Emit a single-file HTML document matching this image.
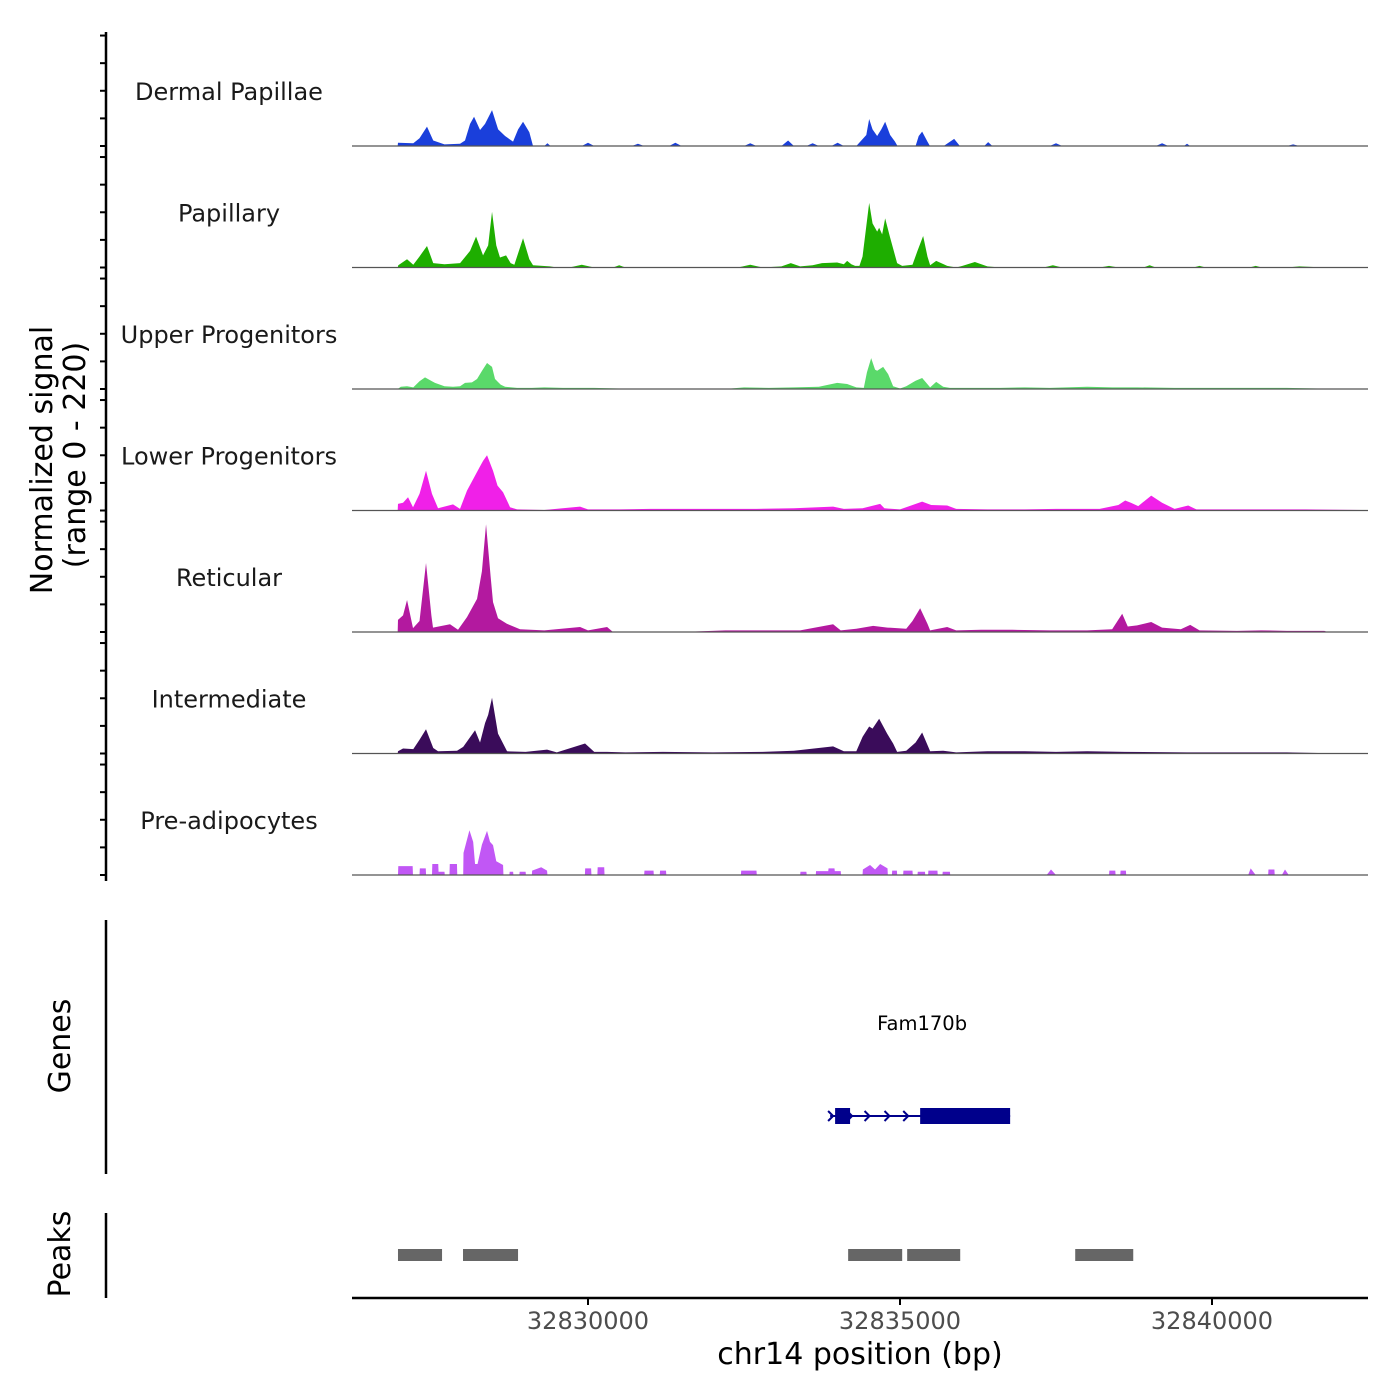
<!DOCTYPE html>
<html><head><meta charset="utf-8"><style>
html,body{margin:0;padding:0;background:#fff}
svg{display:block}
text{font-family:"DejaVu Sans","Liberation Sans",sans-serif}
</style></head><body>
<svg id="chart" width="1400" height="1400" viewBox="0 0 1400 1400" xmlns="http://www.w3.org/2000/svg">
<g id="tracks"></g>
<g id="leftaxis"></g>
<text transform="translate(52,460) rotate(-90)" text-anchor="middle" font-size="30" fill="#000">Normalized signal</text>
<text transform="translate(85,455) rotate(-90)" text-anchor="middle" font-size="30" fill="#000">(range 0 - 220)</text>
<g id="genes"></g>
<line x1="106" y1="920" x2="106" y2="1174" stroke="#000" stroke-width="2.5"/>
<text transform="translate(70,1046) rotate(-90)" text-anchor="middle" font-size="30" fill="#000">Genes</text>
<g id="peaks"></g>
<line x1="106" y1="1213" x2="106" y2="1298" stroke="#000" stroke-width="2.5"/>
<text transform="translate(70,1254) rotate(-90)" text-anchor="middle" font-size="30" fill="#000">Peaks</text>
<g id="xaxis"></g>
<text x="860" y="1364" text-anchor="middle" font-size="30" fill="#000">chr14 position (bp)</text>
</svg>
<script>
const trackNames = ["Dermal Papillae","Papillary","Upper Progenitors","Lower Progenitors","Reticular","Intermediate","Pre-adipocytes"];
const trackColors = ["#1a3fdb","#1eae00","#5ad96a","#f020e8","#b3199f","#3a0c5a","#c157f5"];
const xTicks = [32830000,32835000,32840000];
const yTickValues = [0,50,100,150,200];
const dermalPapillae = [[32826950,0],[32826955,6],[32827200,5],[32827300,14],[32827420,35],[32827520,10],[32827700,3],[32827950,4],[32828029,10],[32828110,40],[32828174,53],[32828270,29],[32828350,40],[32828462,65],[32828560,30],[32828671,18],[32828799,8],[32828880,30],[32828959,44],[32829060,25],[32829119,0],[32829300,0],[32829350,5],[32829400,0],[32829900,0],[32830000,6],[32830100,0],[32830700,0],[32830800,4],[32830900,0],[32831300,0],[32831400,6],[32831500,0],[32832500,0],[32832600,5],[32832700,0],[32833100,0],[32833207,10],[32833300,0],[32833500,0],[32833600,5],[32833700,0],[32833900,0],[32834000,6],[32834100,0],[32834300,0],[32834380,10],[32834460,20],[32834506,49],[32834560,30],[32834634,18],[32834700,30],[32834762,44],[32834842,20],[32834920,8],[32834960,0],[32835250,0],[32835300,18],[32835355,26],[32835440,8],[32835480,0],[32835700,0],[32835868,13],[32835960,0],[32836350,0],[32836413,7],[32836480,0],[32837400,0],[32837500,5],[32837600,0],[32839100,0],[32839200,5],[32839300,0],[32839550,0],[32839600,4],[32839650,0],[32841200,0],[32841300,3],[32841400,0]];
const papillary = [[32826950,0],[32826960,4],[32827100,15],[32827200,5],[32827300,20],[32827420,39],[32827520,8],[32827700,6],[32827950,8],[32828110,30],[32828206,56],[32828318,22],[32828400,40],[32828462,101],[32828530,40],[32828590,18],[32828687,22],[32828760,8],[32828820,5],[32828959,53],[32829060,15],[32829119,4],[32829392,2],[32829500,0],[32829700,0],[32829900,5],[32830100,0],[32830400,0],[32830500,4],[32830600,0],[32832400,0],[32832600,5],[32832800,0],[32833100,2],[32833250,8],[32833400,2],[32833600,4],[32833750,8],[32833993,9],[32834100,6],[32834153,12],[32834220,6],[32834281,3],[32834350,3],[32834400,20],[32834506,117],[32834560,80],[32834634,65],[32834666,72],[32834714,60],[32834762,89],[32834842,54],[32834954,8],[32835035,3],[32835200,5],[32835280,30],[32835371,57],[32835440,20],[32835483,4],[32835580,12],[32835700,6],[32835756,3],[32835900,0],[32836000,3],[32836200,10],[32836400,2],[32836600,0],[32837300,0],[32837450,4],[32837600,0],[32838200,0],[32838350,3],[32838500,0],[32838900,0],[32839000,4],[32839100,0],[32839700,0],[32839800,3],[32839900,0],[32840600,0],[32840700,3],[32840800,0],[32841200,0],[32841400,2],[32841800,0]];
const upperProgenitors = [[32826950,0],[32827000,4],[32827100,5],[32827200,3],[32827300,14],[32827388,21],[32827548,11],[32827700,5],[32827837,4],[32827950,5],[32828029,11],[32828140,12],[32828222,18],[32828302,33],[32828382,47],[32828462,40],[32828510,18],[32828600,8],[32828671,4],[32828863,2],[32829100,2],[32829300,3],[32829600,2],[32830100,2],[32830500,1],[32830700,0],[32832200,0],[32832500,3],[32832900,2],[32833300,3],[32833700,4],[32833993,11],[32834153,9],[32834300,3],[32834420,2],[32834470,30],[32834538,56],[32834600,35],[32834634,33],[32834730,40],[32834810,27],[32834890,5],[32835002,1],[32835100,5],[32835250,15],[32835355,20],[32835483,3],[32835580,13],[32835692,4],[32835800,2],[32836200,2],[32836600,2],[32837000,3],[32837400,2],[32838000,4],[32838400,3],[32838800,3],[32839400,2],[32840000,2],[32840600,2],[32841200,2],[32841700,1],[32841800,0]];
const lowerProgenitors = [[32826950,0],[32826955,12],[32827036,14],[32827116,24],[32827196,6],[32827300,30],[32827404,72],[32827500,30],[32827597,4],[32827837,11],[32827949,3],[32828061,36],[32828270,80],[32828320,90],[32828382,100],[32828478,72],[32828550,45],[32828639,33],[32828751,6],[32828863,2],[32829300,1],[32829873,7],[32830000,2],[32830500,2],[32831000,3],[32832000,3],[32832700,3],[32833300,4],[32833928,7],[32834100,3],[32834400,4],[32834682,12],[32834750,4],[32835000,2],[32835150,8],[32835355,16],[32835500,10],[32835756,9],[32835900,3],[32836400,2],[32837000,2],[32837500,3],[32838200,3],[32838500,10],[32838609,18],[32838700,14],[32838818,8],[32839026,27],[32839200,14],[32839400,3],[32839619,9],[32839750,2],[32840500,2],[32841500,2],[32842400,1],[32842500,0]];
const reticular = [[32826950,0],[32826955,22],[32827036,30],[32827100,58],[32827196,7],[32827300,20],[32827404,125],[32827490,30],[32827516,8],[32827789,14],[32827917,4],[32828061,27],[32828222,60],[32828300,110],[32828366,195],[32828440,100],[32828478,54],[32828558,25],[32828700,15],[32828911,5],[32829300,3],[32829873,9],[32830000,3],[32830306,9],[32830400,0],[32831500,0],[32832200,3],[32832900,3],[32833400,3],[32833928,14],[32834050,3],[32834300,6],[32834570,11],[32834800,8],[32835100,6],[32835200,20],[32835323,43],[32835440,15],[32835483,3],[32835756,9],[32835900,3],[32836300,4],[32836800,4],[32837400,3],[32838000,3],[32838400,5],[32838561,33],[32838650,10],[32838800,12],[32839026,18],[32839200,8],[32839500,5],[32839651,13],[32839800,3],[32840400,2],[32840789,3],[32841200,2],[32841800,2],[32841850,0]];
const intermediate = [[32826950,0],[32826955,4],[32827036,9],[32827200,8],[32827300,25],[32827404,44],[32827520,10],[32827597,4],[32827901,5],[32828000,12],[32828190,42],[32828270,20],[32828350,55],[32828400,70],[32828462,101],[32828558,36],[32828703,4],[32829000,3],[32829344,7],[32829500,2],[32829953,18],[32830100,3],[32830306,3],[32830600,2],[32831200,3],[32832000,2],[32832800,3],[32833300,5],[32833928,13],[32834100,4],[32834300,4],[32834400,30],[32834506,49],[32834560,45],[32834666,63],[32834794,36],[32834890,18],[32834954,3],[32835100,5],[32835250,20],[32835355,38],[32835483,4],[32835692,5],[32835900,2],[32836400,4],[32837000,4],[32837500,3],[32838000,4],[32838600,3],[32839600,2],[32840400,2],[32841200,2],[32841700,1],[32841750,0]];
const preAdipocytes = [[32826955,0],[32826960,16],[32827190,16],[32827195,0],[32827300,0],[32827305,12],[32827400,12],[32827405,0],[32827500,0],[32827505,20],[32827600,20],[32827605,6],[32827700,6],[32827705,0],[32827780,0],[32827785,20],[32827900,20],[32827905,0],[32828000,0],[32828005,40],[32828100,81],[32828160,60],[32828190,20],[32828230,20],[32828300,55],[32828382,80],[32828430,60],[32828478,54],[32828530,25],[32828639,18],[32828645,0],[32828740,0],[32828745,6],[32828800,6],[32828805,0],[32828900,0],[32828905,6],[32829000,6],[32829005,0],[32829100,0],[32829105,8],[32829250,14],[32829344,8],[32829350,0],[32829950,0],[32829955,12],[32830050,12],[32830055,0],[32830150,0],[32830155,14],[32830260,14],[32830265,0],[32830900,0],[32830905,8],[32831050,8],[32831055,0],[32831150,0],[32831155,8],[32831250,8],[32831255,0],[32832450,0],[32832455,8],[32832700,8],[32832705,0],[32833400,0],[32833405,6],[32833500,6],[32833505,0],[32833650,0],[32833655,7],[32833850,7],[32833855,12],[32833950,12],[32833955,7],[32834050,7],[32834055,0],[32834400,0],[32834405,10],[32834520,18],[32834600,10],[32834682,20],[32834800,12],[32834805,0],[32834870,0],[32834875,8],[32834950,8],[32834955,0],[32835050,0],[32835055,8],[32835200,8],[32835205,0],[32835280,0],[32835285,6],[32835400,6],[32835405,0],[32835450,0],[32835455,8],[32835600,8],[32835605,0],[32835680,0],[32835685,6],[32835800,6],[32835805,0],[32837350,0],[32837420,10],[32837500,0],[32838350,0],[32838355,8],[32838450,8],[32838455,0],[32838530,0],[32838535,8],[32838620,8],[32838625,0],[32840580,0],[32840620,12],[32840700,0],[32840900,0],[32840905,10],[32841000,10],[32841005,0],[32841120,0],[32841170,10],[32841230,0]];
const trackData = [dermalPapillae,papillary,upperProgenitors,lowerProgenitors,reticular,intermediate,preAdipocytes];
const geneName = "Fam170b";
const geneStart = 32833880, geneEnd = 32836765;
const geneExons = [[32833960,32834200],[32835323,32836765]];
const geneArrows = [32834200,32834480,32834800,32835100];
const peakStarts = [32826955,32827997,32834169,32835115,32837808];
const peakEnds = [32827661,32828879,32835035,32835965,32838738];

const NS="http://www.w3.org/2000/svg";
const X0=352,X1=1368,BP0=32826218,PXPERBP=0.0624;
function xs(bp){return X0+(bp-BP0)*PXPERBP;}
const TRACK_H=121.5, BASE0=146, YMAX=220;
function ys(i,v){return BASE0+i*TRACK_H - v/YMAX*TRACK_H;}
function mk(tag,attrs,parent){const e=document.createElementNS(NS,tag);for(const k in attrs)e.setAttribute(k,attrs[k]);parent.appendChild(e);return e;}

const tracks=document.getElementById('tracks');
trackData.forEach((d,i)=>{
  const base=ys(i,0);
  let p=`M${xs(d[0][0])},${base}`;
  d.forEach(pt=>{p+=` L${xs(pt[0]).toFixed(2)},${ys(i,pt[1]).toFixed(2)}`;});
  p+=` L${xs(d[d.length-1][0])},${base} Z`;
  const a=mk('path',{d:p,fill:trackColors[i]},tracks);
  
  
  const l=mk('line',{x1:X0,x2:X1,y1:base,y2:base,stroke:'#555','stroke-width':1.2},tracks);
  
  
  const t=mk('text',{x:229,y:base-46,'text-anchor':'middle','font-size':24,fill:'#1a1a1a'},tracks);
  t.textContent=trackNames[i];
  
  
});

const la=document.getElementById('leftaxis');
mk('line',{x1:106,x2:106,y1:32,y2:881,stroke:'#000','stroke-width':2.5},la);
trackData.forEach((d,i)=>{
  yTickValues.forEach(v=>{
    const tk=mk('line',{x1:100,x2:106,y1:ys(i,v),y2:ys(i,v),stroke:'#000','stroke-width':2},la);
    
    
  });
});

const g=document.getElementById('genes');
const gy=1116;
mk('line',{x1:xs(geneStart),x2:xs(geneEnd),y1:gy,y2:gy,stroke:'#00008b','stroke-width':2},g);
geneExons.forEach(e=>{
  const r=mk('rect',{x:xs(e[0]),y:gy-8,width:xs(e[1])-xs(e[0]),height:16,fill:'#00008b'},g);
  
  
});
geneArrows.forEach(a=>{
  const x=xs(a);
  const c=mk('path',{d:`M${x-3},${gy-5} L${x+2},${gy} L${x-3},${gy+5}`,fill:'none',stroke:'#00008b','stroke-width':2},g);
  
  
});
mk('path',{d:`M${xs(geneStart)-2},${gy-5} L${xs(geneStart)+3},${gy} L${xs(geneStart)-2},${gy+5}`,fill:'none',stroke:'#00008b','stroke-width':2},g);
const gl=mk('text',{x:(xs(geneStart)+xs(geneEnd))/2+2,y:1030,'text-anchor':'middle','font-size':19.5,fill:'#000'},g);
gl.textContent=geneName;



const pk=document.getElementById('peaks');
peakStarts.forEach((s,i)=>{
  const r=mk('rect',{x:xs(s),y:1249,width:xs(peakEnds[i])-xs(s),height:12,fill:'#666'},pk);
  
  
});

const xa=document.getElementById('xaxis');
mk('line',{x1:X0,x2:X1,y1:1298,y2:1298,stroke:'#000','stroke-width':2.5},xa);
xTicks.forEach(v=>{
  const tk=mk('line',{x1:xs(v),x2:xs(v),y1:1298,y2:1305,stroke:'#000','stroke-width':2},xa);
  
  
  const t=mk('text',{x:xs(v),y:1329,'text-anchor':'middle','font-size':24,fill:'#4d4d4d'},xa);
  t.textContent=String(v);
  
  
});
</script>
</body></html>
